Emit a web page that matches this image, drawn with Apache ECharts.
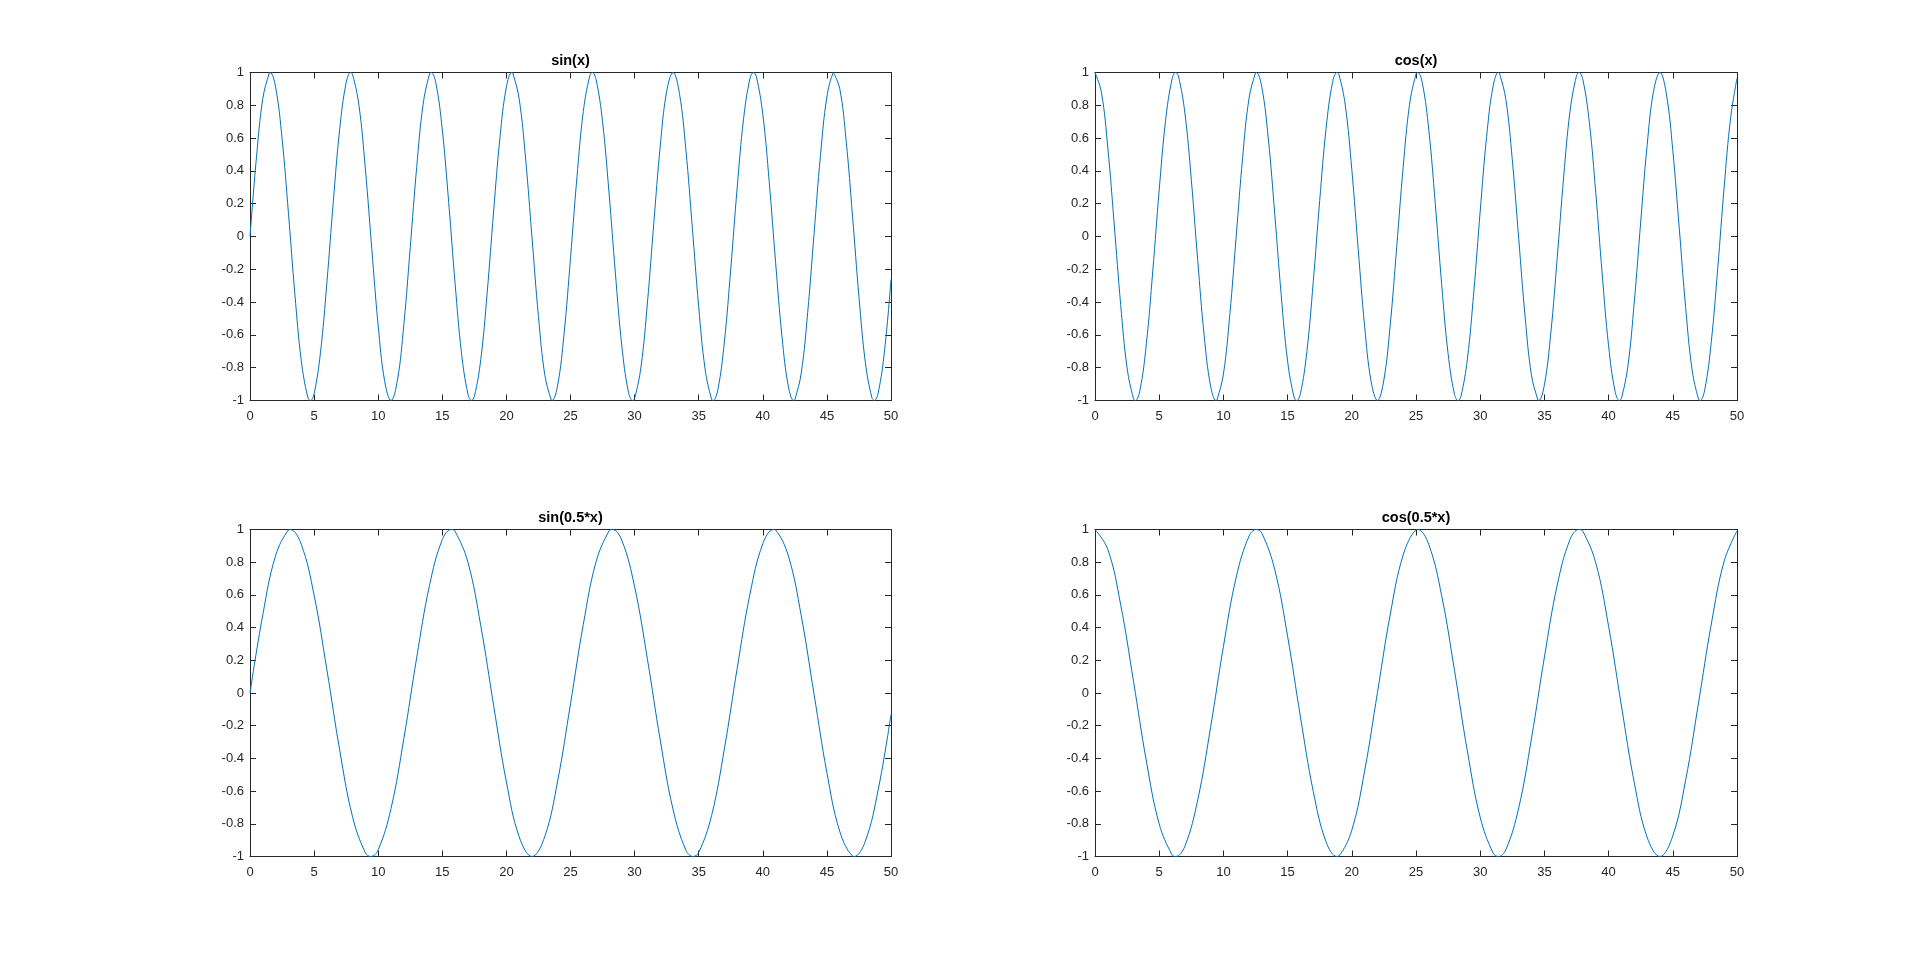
<!DOCTYPE html>
<html>
<head>
<meta charset="utf-8">
<script src="https://cdn.jsdelivr.net/npm/echarts@6/dist/echarts.min.js"></script>
<style>html,body{margin:0;padding:0;background:#fff;}#c{width:1920px;height:963px;}</style>
</head>
<body>
<div id="c"></div>
<script>
// ---- data ----
const titles = ['sin(x)', 'cos(x)', 'sin(0.5*x)', 'cos(0.5*x)'];
const xTicks = [0, 5, 10, 15, 20, 25, 30, 35, 40, 45, 50];
const yTicks = [-1, -0.8, -0.6, -0.4, -0.2, 0, 0.2, 0.4, 0.6, 0.8, 1];

// sin(x)
const sinXx = [0,0.5,1,1.5,1.571,2,2.5,3,3.5,4,4.5,4.712,5,5.5,6,6.5,7,7.5,7.854,8,8.5,9,9.5,10,10.5,11,11.5,12,12.5,13,13.5,14,14.137,14.5,15,15.5,16,16.5,17,17.279,17.5,18,18.5,19,19.5,20,20.42,20.5,21,21.5,22,22.5,23,23.5,23.562,24,24.5,25,25.5,26,26.5,26.704,27,27.5,28,28.5,29,29.5,29.845,30,30.5,31,31.5,32,32.5,33,33.5,34,34.5,35,35.5,36,36.128,36.5,37,37.5,38,38.5,39,39.27,39.5,40,40.5,41,41.5,42,42.412,42.5,43,43.5,44,44.5,45,45.5,45.553,46,46.5,47,47.5,48,48.5,48.695,49,49.5,50];
const sinXy = [0,0.479,0.841,0.997,1,0.909,0.598,0.141,-0.351,-0.757,-0.978,-1,-0.959,-0.706,-0.279,0.215,0.657,0.938,1,0.989,0.799,0.412,-0.075,-0.544,-0.88,-1,-0.876,-0.537,-0.066,0.42,0.804,0.991,1,0.935,0.65,0.207,-0.288,-0.712,-0.961,-1,-0.976,-0.751,-0.343,0.15,0.605,0.913,1,0.997,0.837,0.472,-0.009,-0.487,-0.846,-0.998,-1,-0.906,-0.592,-0.132,0.359,0.763,0.979,1,0.956,0.699,0.271,-0.223,-0.664,-0.941,-1,-0.988,-0.794,-0.405,0.084,0.551,0.884,1,0.871,0.529,0.057,-0.428,-0.809,-0.992,-1,-0.932,-0.644,-0.198,0.296,0.718,0.964,1,0.974,0.745,0.334,-0.159,-0.613,-0.917,-1,-0.996,-0.832,-0.464,0.018,0.495,0.851,0.999,1,0.902,0.584,0.124,-0.367,-0.768,-0.981,-1,-0.954,-0.693,-0.262];

// cos(x)
const cosXx = [0,0.5,1,1.5,2,2.5,3,3.142,3.5,4,4.5,5,5.5,6,6.283,6.5,7,7.5,8,8.5,9,9.425,9.5,10,10.5,11,11.5,12,12.5,12.566,13,13.5,14,14.5,15,15.5,15.708,16,16.5,17,17.5,18,18.5,18.85,19,19.5,20,20.5,21,21.5,22,22.5,23,23.5,24,24.5,25,25.133,25.5,26,26.5,27,27.5,28,28.274,28.5,29,29.5,30,30.5,31,31.416,31.5,32,32.5,33,33.5,34,34.5,34.558,35,35.5,36,36.5,37,37.5,37.699,38,38.5,39,39.5,40,40.5,40.841,41,41.5,42,42.5,43,43.5,44,44.5,45,45.5,46,46.5,47,47.124,47.5,48,48.5,49,49.5,50];
const cosXy = [1,0.878,0.54,0.071,-0.416,-0.801,-0.99,-1,-0.937,-0.654,-0.211,0.284,0.709,0.96,1,0.977,0.754,0.347,-0.146,-0.602,-0.911,-1,-0.997,-0.839,-0.476,0.004,0.483,0.844,0.998,1,0.907,0.595,0.137,-0.355,-0.76,-0.978,-1,-0.958,-0.703,-0.275,0.219,0.66,0.94,1,0.989,0.796,0.408,-0.079,-0.548,-0.882,-1,-0.873,-0.533,-0.062,0.422,0.806,0.991,1,0.933,0.647,0.202,-0.292,-0.715,-0.963,-1,-0.975,-0.748,-0.339,0.154,0.609,0.915,1,0.996,0.834,0.468,-0.013,-0.491,-0.849,-0.998,-1,-0.904,-0.588,-0.128,0.363,0.766,0.98,1,0.955,0.696,0.267,-0.228,-0.667,-0.943,-1,-0.987,-0.791,-0.4,0.088,0.555,0.886,1,0.869,0.525,0.053,-0.432,-0.812,-0.992,-1,-0.93,-0.64,-0.194,0.301,0.721,0.965];

// sin(0.5*x)
const sinHalfXx = [0,1,2,3,3.142,4,5,6,7,8,9,9.425,10,11,12,13,14,15,15.708,16,17,18,19,20,21,22,23,24,25,26,27,28,28.274,29,30,31,32,33,34,34.558,35,36,37,38,39,40,40.841,41,42,43,44,45,46,47,47.124,48,49,50];
const sinHalfXy = [0,0.479,0.841,0.997,1,0.909,0.598,0.141,-0.351,-0.757,-0.978,-1,-0.959,-0.706,-0.279,0.215,0.657,0.938,1,0.989,0.799,0.412,-0.075,-0.544,-0.88,-1,-0.876,-0.537,-0.066,0.42,0.804,0.991,1,0.935,0.65,0.207,-0.288,-0.712,-0.961,-1,-0.976,-0.751,-0.343,0.15,0.605,0.913,1,0.997,0.837,0.472,-0.009,-0.487,-0.846,-0.998,-1,-0.906,-0.592,-0.132];

// cos(0.5*x)
const cosHalfXx = [0,1,2,3,4,5,6,6.283,7,8,9,10,11,12,12.566,13,14,15,16,17,18,18.85,19,20,21,22,23,24,25,25.133,26,27,28,29,30,31,31.416,32,33,34,35,36,37,37.699,38,39,40,41,42,43,44,45,46,47,48,49,50];
const cosHalfXy = [1,0.878,0.54,0.071,-0.416,-0.801,-0.99,-1,-0.937,-0.654,-0.211,0.284,0.709,0.96,1,0.977,0.754,0.347,-0.146,-0.602,-0.911,-1,-0.997,-0.839,-0.476,0.004,0.483,0.844,0.998,1,0.907,0.595,0.137,-0.355,-0.76,-0.978,-1,-0.958,-0.703,-0.275,0.219,0.66,0.94,1,0.989,0.796,0.408,-0.079,-0.548,-0.882,-1,-0.873,-0.533,-0.062,0.422,0.806,0.991];

// ---- chart ----
const seriesX = [sinXx, cosXx, sinHalfXx, cosHalfXx];
const seriesY = [sinXy, cosXy, sinHalfXy, cosHalfXy];

const AX = '#262626';
const FONT = 'Liberation Sans, Arial, Helvetica, sans-serif';
const grids = [
  {left: 250, top: 72.5, width: 641, height: 328},
  {left: 1095, top: 72.5, width: 642, height: 328},
  {left: 250, top: 529.5, width: 641, height: 327},
  {left: 1095, top: 529.5, width: 642, height: 327}
];

const xAxes = [], yAxes = [], series = [], graphics = [];
grids.forEach((g, i) => {
  const common = {
    gridIndex: i, type: 'value',
    axisLine: {show: true, onZero: false, lineStyle: {color: AX, width: 1}},
    axisTick: {show: true, inside: true, length: 6, lineStyle: {color: AX, width: 1}},
    splitLine: {show: false}
  };
  const xCommon = Object.assign({}, common, {min: xTicks[0], max: xTicks[xTicks.length - 1], interval: xTicks[1] - xTicks[0]});
  const yCommon = Object.assign({}, common, {min: yTicks[0], max: yTicks[yTicks.length - 1], interval: 0.2});
  xAxes.push(Object.assign({}, xCommon, {position: 'bottom',
    axisLabel: {show: true, color: AX, fontSize: 13, fontFamily: FONT, margin: 9}}));
  xAxes.push(Object.assign({}, xCommon, {position: 'top', axisLabel: {show: false}}));
  yAxes.push(Object.assign({}, yCommon, {position: 'left',
    axisLabel: {show: true, color: AX, fontSize: 13, fontFamily: FONT, margin: 6,
      formatter: v => String(Math.round(v * 10) / 10)}}));
  yAxes.push(Object.assign({}, yCommon, {position: 'right', axisLabel: {show: false}}));
  series.push({
    type: 'line', xAxisIndex: 2 * i, yAxisIndex: 2 * i,
    data: seriesX[i].map((x, k) => [x, seriesY[i][k]]),
    showSymbol: false, smooth: 0.4, clip: true,
    lineStyle: {color: '#0072BD', width: 1}, animation: false
  });
  graphics.push({
    type: 'text', x: g.left + g.width / 2, y: g.top - 12,
    style: {text: titles[i], textAlign: 'center', textVerticalAlign: 'middle',
      font: 'bold 14.5px ' + FONT, fill: '#000'}
  });
});

const chart = echarts.init(document.getElementById('c'), null, {renderer: 'canvas'});
chart.setOption({
  backgroundColor: '#ffffff',
  animation: false,
  grid: grids,
  xAxis: xAxes,
  yAxis: yAxes,
  series: series,
  graphic: graphics
});
</script>
</body>
</html>
